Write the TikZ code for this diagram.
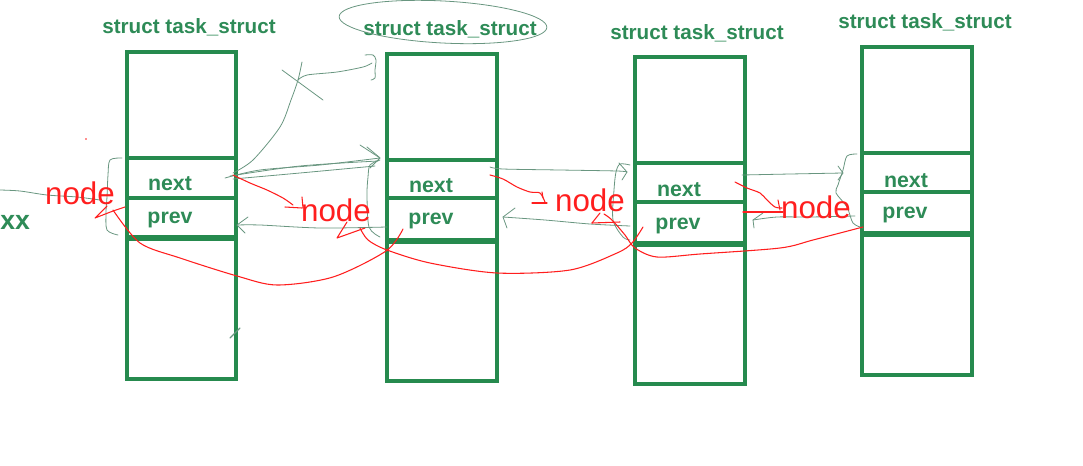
\documentclass[tikz,border=0pt]{standalone}
\usepackage{fontspec}
\setmainfont{Liberation Sans}
\usetikzlibrary{arrows.meta}
\definecolor{boxgreen}{RGB}{38,138,78}
\definecolor{txtgreen}{RGB}{46,139,87}
\definecolor{pen}{RGB}{255,30,30}
\definecolor{pencil}{RGB}{105,150,128}
\tikzset{
  boxline/.style={draw=boxgreen,line width=3pt},
  thicksep/.style={draw=boxgreen,line width=4.5pt},
  title/.style={text=txtgreen,font=\bfseries\fontsize{15.5}{18}\selectfont,inner sep=0pt},
  field/.style={text=txtgreen,font=\bfseries\fontsize{16}{18}\selectfont,inner sep=0pt},
  redlabel/.style={text=pen,font=\fontsize{23.5}{27}\selectfont,inner sep=0pt},
  redpen/.style={draw=pen,line width=0.8pt,line join=round,line cap=round},
  pencilline/.style={draw=pencil,line width=0.6pt,line join=round,line cap=round},
}
\begin{document}
\begin{tikzpicture}[x=0.75pt,y=-0.75pt]
\useasboundingbox (0,0) rectangle (1083,465);
% ---- boxes ----
\draw[boxline] (127,52) rectangle (236,379);
\draw[boxline] (127,158) -- (236,158);
\draw[boxline] (127,198) -- (236,198);
\draw[thicksep] (127,238) -- (236,238);

\draw[boxline] (387,54) rectangle (497,381);
\draw[boxline] (387,160) -- (497,160);
\draw[boxline] (387,198) -- (497,198);
\draw[thicksep] (387,241) -- (497,241);

\draw[boxline] (635,57) rectangle (745,384);
\draw[boxline] (635,163) -- (745,163);
\draw[boxline] (635,202) -- (745,202);
\draw[thicksep] (635,244) -- (745,244);

\draw[boxline] (862,47) rectangle (972,375);
\draw[boxline] (862,153) -- (972,153);
\draw[boxline] (862,192) -- (972,192);
\draw[thicksep] (862,234) -- (972,234);

% ---- titles ----
\node[title] (t1) at (189,27) {struct task\_struct};
\node[title] (t2) at (450,29) {struct task\_struct};
\node[title] (t3) at (697,33) {struct task\_struct};
\node[title] (t4) at (925,22) {struct task\_struct};

% ---- fields ----
\node[field] (n1) at (170,184) {next};
\node[field] (p1) at (170,220) {prev};
\node[field] (n2) at (431,186) {next};
\node[field] (p2) at (431,221) {prev};
\node[field] (n3) at (679,190) {next};
\node[field] (p3) at (678,226) {prev};
\node[field] (n4) at (906,181) {next};
\node[field] (p4) at (905,215) {prev};

\node[text=txtgreen,font=\bfseries\fontsize{20}{23}\selectfont,inner sep=0pt,anchor=west] (xx) at (0,222) {xx};

% ---- pencil strokes ----
\draw[pencilline] plot[smooth] coordinates {(0,190)(20,191)(47,195)(77,197)(100,200)};
\draw[pencilline] plot[smooth] coordinates {(122,158)(110,160)(108,175)(107,197)(106,212)(107,230)(118,235)};
% box1 next -> box2
\draw[pencilline] plot[smooth] coordinates {(225,178)(260,170)(320,165)(380,158)};
\draw[pencilline] plot[smooth] coordinates {(230,176)(300,166)(378,161)};
\draw[pencilline] plot[smooth] coordinates {(233,179)(300,173)(375,166)};
\draw[pencilline] (360,145) -- (380,158) -- (370,168);
\draw[pencilline] (367,147) -- (379,157);
% upward stroke
\draw[pencilline] plot[smooth] coordinates {(233,173)(253,160)(280,127)(291,100)(298,80)(302,62)};
\draw[pencilline] plot[smooth] coordinates {(298,80)(307,75)(337,72)(363,67)(372,63)};
\draw[pencilline] (282,70) -- (323,100);
\draw[pencilline] plot[smooth] coordinates {(365,55)(373,55)(376,60)(375,70)(375,78)(371,80)};
% brace box2
\draw[pencilline] plot[smooth] coordinates {(380,160)(370,165)(368,177)(367,195)(369,227)(380,237)};
% box2 prev -> box1 prev
\draw[pencilline] plot[smooth] coordinates {(387,227)(320,228)(260,225)(237,225)};
\draw[pencilline] (248,217) -- (237,225) -- (245,233);
% box2 next -> box3
\draw[pencilline] plot[smooth] coordinates {(490,167)(503,169)(560,170)(617,171)(627,172)};
\draw[pencilline] (619,163) -- (627,172) -- (622,180);
\draw[pencilline] plot[smooth] coordinates {(630,165)(620,164)(616,172)(614,190)(613,220)(623,237)(630,240)};
% box3 prev -> box2 prev
\draw[pencilline] plot[smooth] coordinates {(630,226)(590,224)(545,220)(503,217)};
\draw[pencilline] (515,208) -- (503,217) -- (507,228);
% box3 next -> box4
\draw[pencilline] plot[smooth] coordinates {(742,175)(790,174)(843,173)};
\draw[pencilline] (838,166) -- (843,173) -- (838,180);
\draw[pencilline] plot[smooth] coordinates {(857,154)(847,156)(843,170)(838,185)(836,193)(847,207)(853,223)(863,228)};
% box4 prev -> box3
\draw[pencilline] plot[smooth] coordinates {(855,216)(810,217)(777,217)(753,220)};
\draw[pencilline] (763,213) -- (753,220) -- (754,228);
% ellipse round title 2
\draw[pencilline,rotate around={-3:(443,22)}] (443,22) ellipse [x radius=104, y radius=21];
% small mark
\draw[pencilline,line width=1pt] (230,338) -- (240,328);

% ---- red labels ----
\node[redlabel] (r1) at (80,193) {node};
\node[redlabel] (r2) at (336,210) {node};
\node[redlabel] (r3) at (590,200) {node};
\node[redlabel] (r4) at (816,207) {node};

% ---- red pen ----
\draw[redpen] plot[smooth] coordinates {(403,229)(386,251)(333,277)(277,285)(237,276)(180,258)(140,243)(113,210)};
\draw[redpen] (107,206) -- (95,218) -- (113,211) -- (125,207);
\draw[redpen] plot[smooth] coordinates {(643,227)(632,243)(617,253)(570,270)(497,273)(430,263)(387,250)(368,240)(360,228)};
\draw[redpen] (347,222) -- (337,238) -- (365,228);
\draw[redpen] plot[smooth] coordinates {(863,227)(813,240)(780,248)(700,254)(657,257)(635,248)(625,235)(612,220)(604,214)};
\draw[redpen] (600,213) -- (592,223);
\draw[redpen] (592,223) -- (620,222);
\draw[redpen] plot[smooth] coordinates {(233,175)(250,183)(267,190)(283,198)(293,205)};
\draw[redpen] (285,207) -- (302,208);
\draw[redpen] (302,197) -- (303,208);
\draw[redpen] plot[smooth] coordinates {(490,175)(503,179)(517,187)(530,192)(540,193)(545,202)};
\draw[redpen] (532,203) -- (547,203);
\draw[redpen] (542,192) -- (543,198);
\draw[redpen] plot[smooth] coordinates {(735,182)(747,188)(760,193)(767,200)(775,207)(782,208)};
\draw[redpen] (778,200) -- (780,210);
\draw[redpen] (743,212) -- (783,212);
\fill[pen] (86,139) circle (0.8);
\end{tikzpicture}
\end{document}
